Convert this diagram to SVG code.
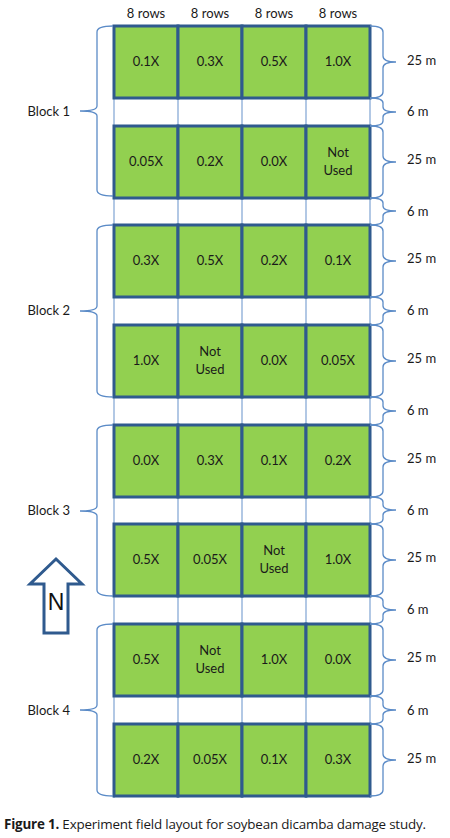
<svg xmlns="http://www.w3.org/2000/svg" width="450" height="838" viewBox="0 0 450 838">
<style>
.plot{fill:#92D050;stroke:#2F5A8E;stroke-width:3}
.grid{stroke:#7FA3D3;stroke-width:1.2;fill:none}
.br{stroke:#5B8BC7;stroke-width:1.3;fill:none}
.t{font-family:Lato,"Liberation Sans",sans-serif;font-size:13px;fill:#1a1a1a}
.c{text-anchor:middle}
</style>
<rect width="450" height="838" fill="#ffffff"/>
<g id="grid">
<line class="grid" x1="114" y1="26" x2="114" y2="798"/>
<line class="grid" x1="178" y1="26" x2="178" y2="798"/>
<line class="grid" x1="242" y1="26" x2="242" y2="798"/>
<line class="grid" x1="306" y1="26" x2="306" y2="798"/>
<line class="grid" x1="370" y1="26" x2="370" y2="798"/>
</g>
<g id="headers" class="t c">
<text x="146" y="18">8 rows</text>
<text x="210" y="18">8 rows</text>
<text x="274" y="18">8 rows</text>
<text x="338" y="18">8 rows</text>
</g>
<g id="row1">
<rect class="plot" x="114" y="26" width="64" height="72"/><rect class="plot" x="178" y="26" width="64" height="72"/><rect class="plot" x="242" y="26" width="64" height="72"/><rect class="plot" x="306" y="26" width="64" height="72"/>
<text class="t c" x="146" y="66">0.1X</text><text class="t c" x="210" y="66">0.3X</text><text class="t c" x="274" y="66">0.5X</text><text class="t c" x="338" y="66">1.0X</text>
</g>
<g id="row2">
<rect class="plot" x="114" y="126" width="64" height="72"/><rect class="plot" x="178" y="126" width="64" height="72"/><rect class="plot" x="242" y="126" width="64" height="72"/><rect class="plot" x="306" y="126" width="64" height="72"/>
<text class="t c" x="146" y="166">0.05X</text><text class="t c" x="210" y="166">0.2X</text><text class="t c" x="274" y="166">0.0X</text><text class="t c" x="338" y="157">Not</text><text class="t c" x="338" y="175">Used</text>
</g>
<g id="row3">
<rect class="plot" x="114" y="225" width="64" height="72"/><rect class="plot" x="178" y="225" width="64" height="72"/><rect class="plot" x="242" y="225" width="64" height="72"/><rect class="plot" x="306" y="225" width="64" height="72"/>
<text class="t c" x="146" y="265">0.3X</text><text class="t c" x="210" y="265">0.5X</text><text class="t c" x="274" y="265">0.2X</text><text class="t c" x="338" y="265">0.1X</text>
</g>
<g id="row4">
<rect class="plot" x="114" y="325" width="64" height="72"/><rect class="plot" x="178" y="325" width="64" height="72"/><rect class="plot" x="242" y="325" width="64" height="72"/><rect class="plot" x="306" y="325" width="64" height="72"/>
<text class="t c" x="146" y="365">1.0X</text><text class="t c" x="210" y="356">Not</text><text class="t c" x="210" y="374">Used</text><text class="t c" x="274" y="365">0.0X</text><text class="t c" x="338" y="365">0.05X</text>
</g>
<g id="row5">
<rect class="plot" x="114" y="425" width="64" height="72"/><rect class="plot" x="178" y="425" width="64" height="72"/><rect class="plot" x="242" y="425" width="64" height="72"/><rect class="plot" x="306" y="425" width="64" height="72"/>
<text class="t c" x="146" y="465">0.0X</text><text class="t c" x="210" y="465">0.3X</text><text class="t c" x="274" y="465">0.1X</text><text class="t c" x="338" y="465">0.2X</text>
</g>
<g id="row6">
<rect class="plot" x="114" y="524" width="64" height="72"/><rect class="plot" x="178" y="524" width="64" height="72"/><rect class="plot" x="242" y="524" width="64" height="72"/><rect class="plot" x="306" y="524" width="64" height="72"/>
<text class="t c" x="146" y="564">0.5X</text><text class="t c" x="210" y="564">0.05X</text><text class="t c" x="274" y="555">Not</text><text class="t c" x="274" y="573">Used</text><text class="t c" x="338" y="564">1.0X</text>
</g>
<g id="row7">
<rect class="plot" x="114" y="624" width="64" height="72"/><rect class="plot" x="178" y="624" width="64" height="72"/><rect class="plot" x="242" y="624" width="64" height="72"/><rect class="plot" x="306" y="624" width="64" height="72"/>
<text class="t c" x="146" y="664">0.5X</text><text class="t c" x="210" y="655">Not</text><text class="t c" x="210" y="673">Used</text><text class="t c" x="274" y="664">1.0X</text><text class="t c" x="338" y="664">0.0X</text>
</g>
<g id="row8">
<rect class="plot" x="114" y="724" width="64" height="72"/><rect class="plot" x="178" y="724" width="64" height="72"/><rect class="plot" x="242" y="724" width="64" height="72"/><rect class="plot" x="306" y="724" width="64" height="72"/>
<text class="t c" x="146" y="764">0.2X</text><text class="t c" x="210" y="764">0.05X</text><text class="t c" x="274" y="764">0.1X</text><text class="t c" x="338" y="764">0.3X</text>
</g>
<g id="blocks">
<path class="br" d="M113,26 Q97,26 97,32 L97,106 Q97,111 80,111 Q97,111 97,116 L97,190 Q97,196 113,196"/>
<path class="br" d="M113,225 Q97,225 97,231 L97,306 Q97,311 80,311 Q97,311 97,316 L97,391 Q97,397 113,397"/>
<path class="br" d="M113,425 Q97,425 97,431 L97,506 Q97,511 80,511 Q97,511 97,516 L97,590 Q97,596 113,596"/>
<path class="br" d="M113,624 Q97,624 97,630 L97,705 Q97,710 80,710 Q97,710 97,715 L97,790 Q97,796 113,796"/>
<text class="t" x="70" y="116" text-anchor="end">Block 1</text>
<text class="t" x="70" y="315" text-anchor="end">Block 2</text>
<text class="t" x="70" y="515" text-anchor="end">Block 3</text>
<text class="t" x="70" y="715" text-anchor="end">Block 4</text>
</g>
<g id="dims">
<path class="br" d="M370,26 Q383,26 383,32 L383,56 Q383,62 396,62 Q383,62 383,68 L383,92 Q383,98 370,98"/>
<path class="br" d="M370,98 Q383,98 383,103 L383,107 Q383,112 396,112 Q383,112 383,117 L383,121 Q383,126 370,126"/>
<path class="br" d="M370,126 Q383,126 383,132 L383,156 Q383,162 396,162 Q383,162 383,168 L383,192 Q383,198 370,198"/>
<path class="br" d="M370,198 Q383,198 383,203 L383,206 Q383,211 396,211 Q383,211 383,216 L383,220 Q383,225 370,225"/>
<path class="br" d="M370,225 Q383,225 383,231 L383,255 Q383,261 396,261 Q383,261 383,267 L383,291 Q383,297 370,297"/>
<path class="br" d="M370,297 Q383,297 383,302 L383,306 Q383,311 396,311 Q383,311 383,316 L383,320 Q383,325 370,325"/>
<path class="br" d="M370,325 Q383,325 383,331 L383,355 Q383,361 396,361 Q383,361 383,367 L383,391 Q383,397 370,397"/>
<path class="br" d="M370,397 Q383,397 383,402 L383,406 Q383,411 396,411 Q383,411 383,416 L383,420 Q383,425 370,425"/>
<path class="br" d="M370,425 Q383,425 383,431 L383,455 Q383,461 396,461 Q383,461 383,467 L383,491 Q383,497 370,497"/>
<path class="br" d="M370,497 Q383,497 383,502 L383,505 Q383,510 396,510 Q383,510 383,515 L383,519 Q383,524 370,524"/>
<path class="br" d="M370,524 Q383,524 383,530 L383,554 Q383,560 396,560 Q383,560 383,566 L383,590 Q383,596 370,596"/>
<path class="br" d="M370,596 Q383,596 383,601 L383,605 Q383,610 396,610 Q383,610 383,615 L383,619 Q383,624 370,624"/>
<path class="br" d="M370,624 Q383,624 383,630 L383,654 Q383,660 396,660 Q383,660 383,666 L383,690 Q383,696 370,696"/>
<path class="br" d="M370,696 Q383,696 383,701 L383,705 Q383,710 396,710 Q383,710 383,715 L383,719 Q383,724 370,724"/>
<path class="br" d="M370,724 Q383,724 383,730 L383,754 Q383,760 396,760 Q383,760 383,766 L383,790 Q383,796 370,796"/>
<g class="t">
<text x="407" y="65">25 m</text>
<text x="407" y="116">6 m</text>
<text x="407" y="164">25 m</text>
<text x="407" y="216">6 m</text>
<text x="407" y="263">25 m</text>
<text x="407" y="315">6 m</text>
<text x="407" y="363">25 m</text>
<text x="407" y="415">6 m</text>
<text x="407" y="463">25 m</text>
<text x="407" y="515">6 m</text>
<text x="407" y="562">25 m</text>
<text x="407" y="614">6 m</text>
<text x="407" y="662">25 m</text>
<text x="407" y="715">6 m</text>
<text x="407" y="763">25 m</text>
</g>
</g>
<g id="north">
<polygon points="56,559 82,584 68,584 68,633 44,633 44,584 30,584" fill="#ffffff" stroke="#2F5A8E" stroke-width="3" stroke-linejoin="miter"/>
<text x="56" y="610" text-anchor="middle" font-family="'Liberation Sans',sans-serif" font-size="23" fill="#111">N</text>
</g>
<text x="4" y="829" font-family="'Open Sans','Liberation Sans',sans-serif" font-size="13.4" fill="#1a1a1a" textLength="422" lengthAdjust="spacing"><tspan font-weight="bold">Figure 1.</tspan> Experiment field layout for soybean dicamba damage study.</text>
</svg>
